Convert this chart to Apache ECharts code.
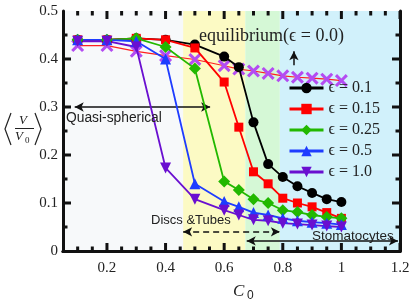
<!DOCTYPE html>
<html><head><meta charset="utf-8">
<script src="https://cdn.jsdelivr.net/npm/echarts@6/dist/echarts.min.js"></script>
<style>html,body{margin:0;padding:0;background:#fff}#c{width:416px;height:301px}</style>
</head><body><div id="c"></div>
<script>
const C0 = [0.1,0.2,0.3,0.4,0.5,0.6,0.65,0.7,0.75,0.8,0.85,0.9,0.95,1.0];
const eps01  = [0.44,0.44,0.443,0.44,0.43,0.405,0.383,0.268,0.181,0.154,0.135,0.121,0.108,0.102];
const eps015 = [0.44,0.44,0.443,0.44,0.423,0.352,0.258,0.165,0.140,0.110,0.100,0.092,0.080,0.068];
const eps025 = [0.44,0.44,0.443,0.425,0.380,0.145,0.127,0.108,0.100,0.085,0.081,0.075,0.071,0.068];
const eps05  = [0.44,0.44,0.437,0.400,0.140,0.103,0.092,0.080,0.075,0.068,0.063,0.060,0.058,0.055];
const eps10  = [0.437,0.437,0.425,0.173,0.108,0.085,0.075,0.065,0.063,0.058,0.056,0.054,0.052,0.050];
const equil  = [0.428,0.428,0.416,0.407,0.399,0.386,0.379,0.375,0.370,0.365,0.362,0.360,0.358,0.355];
const seriesNames = ['ϵ = 0.1','ϵ = 0.15','ϵ = 0.25','ϵ = 0.5','ϵ = 1.0'];
const xTickValues = [0.2,0.4,0.6,0.8,1.0,1.2];
const xTickLabels = ['0.2','0.4','0.6','0.8','1','1.2'];
const xMinorValues = [0.1,0.15,0.25,0.3,0.35,0.45,0.5,0.55,0.65,0.7,0.75,0.85,0.9,0.95,1.05,1.1,1.15];
const yTickValues = [0.1,0.2,0.3,0.4];
const yMinorValues = [0.05,0.15,0.25,0.35,0.45];
const regions = [[0.05,0.46,'#f7f9fa'],[0.46,0.672,'#fcfac4'],[0.672,0.79,'#d5f8d6'],[0.79,1.2,'#d1f1fb']];

const X_MIN = 0.05, X_MAX = 1.2, Y_MIN = 0, Y_MAX = 0.5;
const W = 416, H = 301;
const GRID = {left:63, right:16, top:11, bottom:50};
const TICK_MAJOR = 8, TICK_MINOR = 4.5;

const pts = arr => C0.map((x,i)=>[x,arr[i]]);
const SERIF = '"Liberation Serif","DejaVu Serif",serif';
const SANS = '"Liberation Sans","DejaVu Sans",sans-serif';
const XSYM = 'path://M0,2 L2,0 L6,4 L10,0 L12,2 L8,6 L12,10 L10,12 L6,8 L2,12 L0,10 L4,6 Z';

// linear map of the axis ranges onto the grid box (for the frame's tick marks)
const gx0 = GRID.left, gx1 = W - GRID.right, gy0 = GRID.top, gy1 = H - GRID.bottom;
const pxX = v => gx0 + (v - X_MIN) / (X_MAX - X_MIN) * (gx1 - gx0);
const pxY = v => gy1 - (v - Y_MIN) / (Y_MAX - Y_MIN) * (gy1 - gy0);
const tickEls = [];
function tickRect(x,y,w,h){ tickEls.push({type:'rect', zlevel:3, z:50, silent:true, shape:{x:x,y:y,width:w,height:h}, style:{fill:'#111'}}); }
xTickValues.forEach(v=>{ const x=pxX(v); tickRect(x-1.5, gy1-TICK_MAJOR, 3, TICK_MAJOR); tickRect(x-1.5, gy0, 3, TICK_MAJOR); });
xMinorValues.forEach(v=>{ const x=pxX(v); tickRect(x-1.5, gy1-TICK_MINOR, 3, TICK_MINOR); tickRect(x-1.5, gy0, 3, TICK_MINOR); });
yTickValues.forEach(v=>{ const y=pxY(v); tickRect(gx0, y-1.5, TICK_MAJOR, 3); tickRect(gx1-TICK_MAJOR, y-1.5, TICK_MAJOR, 3); });
yMinorValues.forEach(v=>{ const y=pxY(v); tickRect(gx0, y-1.5, TICK_MINOR, 3); tickRect(gx1-TICK_MINOR, y-1.5, TICK_MINOR, 3); });

function mkSeries(name, arr, color, symbol, size, rot){
  return {name, type:'line', zlevel:1, data:pts(arr), symbol, symbolSize:size, symbolRotate:rot||0,
    lineStyle:{color, width:1.8}, itemStyle:{color}, z:3};
}
const axisLineStyle = {show:true, lineStyle:{color:'#111', width:3}};
const textEls = [
  {type:'text', zlevel:2, left:199, top:27, style:{text:'equilibrium(ϵ = 0.0)', font:'18px '+SERIF, fill:'#222'}},
  {type:'text', zlevel:2, left:66, top:111, style:{text:'Quasi-spherical', font:'13.8px '+SANS, fill:'#222'}},
  {type:'text', zlevel:2, left:151, top:214, style:{text:'Discs &Tubes', font:'13px '+SANS, fill:'#222'}},
  {type:'text', zlevel:2, left:312, top:229, style:{text:'Stomatocytes', font:'13.5px '+SANS, fill:'#222'}},
  {type:'text', zlevel:2, left:233, top:283, style:{text:'C', font:'italic 17px '+SERIF, fill:'#222'}},
  {type:'text', zlevel:2, left:247, top:290, style:{text:'0', font:'12px '+SANS, fill:'#222'}},
  {type:'polyline', zlevel:2, shape:{points:[[11,113],[5,129],[11,145]]}, style:{stroke:'#222', lineWidth:1.2, fill:null}},
  {type:'polyline', zlevel:2, shape:{points:[[35,113],[41,129],[35,145]]}, style:{stroke:'#222', lineWidth:1.2, fill:null}},
  {type:'text', zlevel:2, left:19, top:114, style:{text:'V', font:'italic 13px '+SERIF, fill:'#222'}},
  {type:'rect', zlevel:2, shape:{x:15, y:128, width:19, height:1}, style:{fill:'#222'}},
  {type:'text', zlevel:2, left:15, top:130, style:{text:'V', font:'italic 13px '+SERIF, fill:'#222'}},
  {type:'text', zlevel:2, left:25, top:136, style:{text:'0', font:'9px '+SERIF, fill:'#222'}}
];
const chart = echarts.init(document.getElementById('c'));
chart.setOption({
  animation:false,
  grid:GRID,
  xAxis:[
    {type:'value', position:'bottom', min:X_MIN, max:X_MAX, zlevel:2, axisLine:axisLineStyle, axisTick:{show:false},
     axisLabel:{show:true, customValues:xTickValues, formatter:v=>xTickLabels[xTickValues.findIndex(t=>Math.abs(t-v)<1e-6)], fontFamily:SERIF, fontSize:15, color:'#222', margin:10},
     splitLine:{show:false}},
    {type:'value', position:'top', min:X_MIN, max:X_MAX, zlevel:2, axisLine:axisLineStyle, axisTick:{show:false},
     axisLabel:{show:false}, splitLine:{show:false}}
  ],
  yAxis:[
    {type:'value', position:'left', min:Y_MIN, max:Y_MAX, interval:0.1, zlevel:2, axisLine:axisLineStyle, axisTick:{show:false},
     axisLabel:{formatter:v=>v===0?'0':v.toFixed(1), fontFamily:SERIF, fontSize:15, color:'#222', margin:5},
     splitLine:{show:false}},
    {type:'value', position:'right', min:Y_MIN, max:Y_MAX, interval:0.1, zlevel:2, axisLine:axisLineStyle, axisTick:{show:false},
     axisLabel:{show:false}, splitLine:{show:false}}
  ],
  legend:{data:seriesNames, orient:'vertical', left:288, top:80, padding:0, itemWidth:34, itemHeight:13, itemGap:5, zlevel:2,
    textStyle:{fontFamily:SERIF, fontSize:16, color:'#222'}, lineStyle:{width:3}},
  series:[
    {name:'bg', type:'line', data:[], silent:true, zlevel:0, z:0,
     markArea:{silent:true, data:regions.map(r=>[{xAxis:r[0], yAxis:Y_MIN, itemStyle:{color:r[2]}},{xAxis:r[1], yAxis:Y_MAX}])}},
    {name:'equil', type:'line', zlevel:1, data:pts(equil), symbol:XSYM, symbolSize:13,
     lineStyle:{color:'#ff2020', width:1.2}, itemStyle:{color:'#b44cf2'}, z:2},
    mkSeries(seriesNames[0], eps01, '#000000', 'circle', 10),
    mkSeries(seriesNames[1], eps015, '#ff0000', 'rect', 9),
    mkSeries(seriesNames[2], eps025, '#22b800', 'diamond', 12),
    mkSeries(seriesNames[3], eps05, '#1e3cff', 'triangle', 11),
    mkSeries(seriesNames[4], eps10, '#6a0fd0', 'triangle', 11, 180),
    {name:'arrows', type:'line', zlevel:1, data:[], silent:true, z:4,
     markLine:{silent:true, symbol:['arrow','arrow'], symbolSize:[7,9], label:{show:false},
       lineStyle:{color:'#111', width:1.5, type:'solid'},
       data:[
         [{coord:[0.09,0.3]},{coord:[0.552,0.3]}],
         [{coord:[0.46,0.04], lineStyle:{type:[6,4]}},{coord:[0.79,0.04]}],
         [{coord:[0.677,0.021]},{coord:[1.193,0.021]}],
         [{coord:[0.838,0.387], symbol:'none'},{coord:[0.838,0.416]}]
       ]}}
  ],
  graphic:{elements:textEls.concat(tickEls)}
});
</script></body></html>
